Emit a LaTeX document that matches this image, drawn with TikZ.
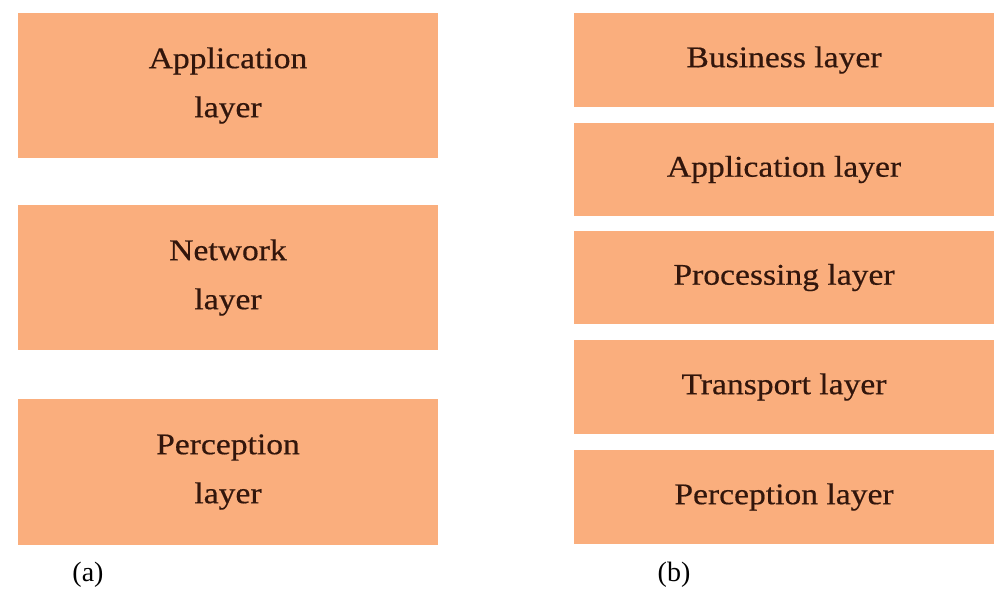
\documentclass[tikz,border=0pt]{standalone}
\usepackage{fontspec}
\setmainfont{Liberation Serif}[FakeStretch=1.12,FakeBold=0.5]
\newfontfamily\capfont{Liberation Serif}
\definecolor{layerfill}{RGB}{250,174,125}
\definecolor{layertext}{RGB}{50,22,12}
\begin{document}
\begin{tikzpicture}[x=1pt,y=-1pt,
  layer/.style={rectangle, fill=layerfill, draw=none, inner sep=0pt, outer sep=0pt,
    text=layertext, align=center, minimum width=420pt,
    font=\fontsize{30}{49}\selectfont},
  caption/.style={font=\capfont\fontsize{28}{32}\selectfont, text=black, inner sep=0pt}]
\useasboundingbox[fill=white] (0,0) rectangle (994,590);

% (a) three-layer architecture
\node[layer, minimum height=145pt] (a1) at (228,85.5) {Application\\layer};
\node[layer, minimum height=145pt] (a2) at (228,277.5) {Network\\layer};
\node[layer, minimum height=146pt] (a3) at (228,472) {Perception\\layer};

% (b) five-layer architecture
\node[layer, minimum height=94pt] (b1) at (784,60) {Business layer};
\node[layer, minimum height=93pt] (b2) at (784,169.5) {Application layer};
\node[layer, minimum height=93pt] (b3) at (784,277.5) {Processing layer};
\node[layer, minimum height=94pt] (b4) at (784,387) {Transport layer};
\node[layer, minimum height=94pt] (b5) at (784,497) {Perception layer};

% sub-figure captions
\node[caption] (capa) at (88,575) {(a)};
\node[caption] (capb) at (674,575) {(b)};
\end{tikzpicture}
\end{document}
